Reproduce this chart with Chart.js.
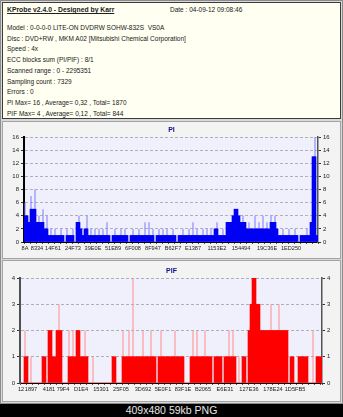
<!DOCTYPE html>
<html>
<head>
<meta charset="utf-8">
<script src="https://cdn.jsdelivr.net/npm/chart.js@4/dist/chart.umd.min.js"></script>
<style>
  html, body { margin: 0; padding: 0; }
  body { width: 343px; height: 417px; background: #d9d9d9; position: relative; overflow: hidden;
         font-family: "Liberation Sans", Arial, sans-serif; }
  #frame { position: absolute; left: 0; top: 0; width: 341px; height: 402px; border: 1px solid #8c8c8c; }
  #head { position: absolute; left: 2px; top: 2px; width: 337px; height: 115px; border: 1px solid #3c3c3c;
          background: #fffff2; color: #202020; font-size: 6.5px; }
  #head .ttl { position: absolute; left: 4px; top: 3px; font-weight: bold; text-decoration: underline; font-size: 6.8px; }
  #head .date { position: absolute; left: 167px; top: 3px; }
  #head .info { position: absolute; left: 4px; top: 20px; line-height: 10.7px; }
  .panel { position: absolute; left: 2px; width: 337px; border: 1px solid #a4a4a4; background: #f3f3f3; }
  #caption { position: absolute; left: 0; top: 404px; width: 343px; height: 13px; background: #000;
             color: #e6e6e6; font-size: 10.5px; line-height: 13px; text-align: center; }
</style>
</head>
<body>
<div id="frame"></div>
<div id="head">
  <div class="ttl">KProbe v2.4.0 - Designed by Karr</div>
  <div class="date">Date : 04-09-12 09:08:46</div>
  <div class="info">
    Model : 0-0-0-0 LITE-ON DVDRW SOHW-832S&nbsp; VS0A<br>
    Disc : DVD+RW , MKM A02 [Mitsubishi Chemical Corporation]<br>
    Speed : 4x<br>
    ECC blocks sum (PI/PIF) : 8/1<br>
    Scanned range : 0 - 2295351<br>
    Sampling count : 7329<br>
    Errors : 0<br>
    PI Max= 16 , Average= 0,32 , Total= 1870<br>
    PIF Max= 4 , Average= 0,12 , Total= 844
  </div>
</div>
<div class="panel" style="top:121px;height:136px;"><canvas id="piChart"></canvas></div>
<div class="panel" style="top:260px;height:140px;"><canvas id="pifChart"></canvas></div>
<div id="caption">409x480 59kb PNG</div>

<script>
// PI errors per sample (left to right across the disc)
const piValues = [
  6, 4, 3, 7, 5, 8, 3, 4, 3, 5,
  2, 4, 1, 2, 1, 2, 1, 1, 2, 1,
  0, 2, 1, 1, 2, 0, 3, 4, 2, 1,
  2, 4, 1, 2, 1, 2, 1, 2, 1, 2,
  1, 3, 1, 0, 1, 2, 1, 1, 2, 1,
  2, 1, 0, 1, 2, 1, 1, 2, 1, 1,
  3, 1, 3, 1, 2, 0, 1, 2, 1, 2,
  1, 2, 1, 1, 2, 1, 0, 1, 1, 2,
  1, 1, 2, 1, 3, 1, 2, 1, 1, 2,
  1, 2, 1, 2, 1, 2, 3, 1, 1, 2,
  1, 3, 3, 3, 4, 5, 5, 4, 3, 4,
  3, 2, 3, 2, 2, 4, 2, 3, 2, 4,
  2, 3, 2, 4, 3, 4, 2, 1, 1, 2,
  1, 1, 2, 1, 1, 2, 1, 0, 1, 1,
  1, 2, 1, 3, 13, 16, 1
];
const piTickLabels = ["8A", "8334", "14F61", "24F73", "39E0E", "51E89", "6F008", "8F947",
                      "B62F7", "E1387", "1153E2", "154494", "19C36E", "1ED250"];
const piTickAt = [0, 6, 14, 24, 34, 44, 54, 64, 74, 84, 96, 108, 121, 133];

// PIF errors per sample
const pifValues = [
  0, 0, 2, 1, 0, 1, 0, 0, 0, 0,
  0, 1, 1, 0, 2, 2, 1, 1, 2, 3,
  2, 0, 0, 0, 2, 1, 2, 1, 2, 2,
  1, 1, 2, 1, 0, 0, 1, 0, 0, 0,
  0, 0, 0, 0, 0, 0, 1, 1, 0, 0,
  0, 2, 1, 1, 2, 1, 4, 1, 1, 1,
  1, 2, 1, 1, 1, 2, 1, 1, 0, 1,
  2, 1, 1, 1, 1, 1, 1, 2, 1, 1,
  1, 1, 0, 0, 0, 1, 2, 1, 2, 1,
  1, 1, 2, 1, 1, 1, 0, 1, 1, 1,
  1, 0, 1, 1, 2, 1, 2, 1, 0, 1,
  0, 1, 1, 0, 2, 3, 4, 4, 3, 3,
  2, 2, 2, 2, 2, 3, 2, 2, 2, 3,
  2, 2, 2, 2, 0, 1, 1, 0, 0, 1,
  1, 1, 1, 1, 0, 0, 2, 0, 1, 1,
  1
];
const pifTickLabels = ["12", "1897", "4181", "79F4", "D1E4", "15301", "25F05", "3D692",
                       "5E0F1", "83F1E", "B2065", "E6E31", "127E36", "178E24", "1D5FB5"];
const pifTickAt = [0, 5, 14, 21, 30, 40, 50, 61, 71, 81, 91, 102, 114, 126, 137];

const FONT = "'Liberation Sans', Arial, sans-serif";

// light lavender behind the bars
const plotBg = {
  id: "plotBg",
  beforeDraw(chart) {
    const { ctx, chartArea: a } = chart;
    ctx.save();
    ctx.fillStyle = "#f0f0fd";
    ctx.fillRect(a.left, a.top, a.width, a.height);
    ctx.restore();
  }
};

function makeLabels(n, names, at) {
  const labels = new Array(n).fill("");
  names.forEach((t, k) => { labels[at[k]] = t; });
  return labels;
}

// the solid part of the bars: height shared with a neighbour
function denseLayer(vals) {
  return vals.map((v, i) => Math.min(v, Math.max(vals[i - 1] || 0, vals[i + 1] || 0)));
}

function drawProbe(id, o) {
  const tickFont = { size: 5.6, family: FONT };
  const yTicks = { stepSize: o.step, padding: 2, color: "#222", font: { size: 6, family: FONT } };
  return new Chart(document.getElementById(id), {
    type: "bar",
    data: {
      labels: makeLabels(o.values.length, o.tickNames, o.tickAt),
      datasets: [
        { data: denseLayer(o.values), backgroundColor: o.dark, grouped: false,
          barPercentage: 1, categoryPercentage: 1, borderWidth: 0 },
        // isolated peaks are only one pixel wide
        { data: o.values, backgroundColor: o.light, grouped: false,
          barPercentage: 0.5, categoryPercentage: 1, borderWidth: 0 }
      ]
    },
    options: {
      responsive: true,
      maintainAspectRatio: false,
      animation: false,
      layout: { padding: 0 },
      plugins: {
        legend: { display: false },
        tooltip: { enabled: false },
        title: { display: true, text: o.title, color: "#10108a",
                 font: { size: 7, weight: "bold", family: FONT },
                 padding: { top: o.titleTop, bottom: o.titleBottom } }
      },
      scales: {
        x: {
          offset: true,
          grid: { drawOnChartArea: false, tickLength: 2,
                  tickColor: c => (c.index % 3 ? "transparent" : "#555") },
          border: { color: "#000", width: 1 },
          ticks: { autoSkip: false, maxRotation: 0, minRotation: 0, padding: 1,
                   color: "#222", font: tickFont },
          afterFit: s => { s.height = o.xh; }
        },
        y: {
          min: 0, max: o.max,
          ticks: yTicks,
          grid: { color: "#b0b0bc", tickLength: 3, tickColor: "#333" },
          border: { color: o.leftAxis, width: o.leftWidth, dash: [3, 2] },
          afterFit: s => { s.width = o.lw; }
        },
        y2: {
          position: "right", min: 0, max: o.max,
          ticks: yTicks,
          grid: { drawOnChartArea: false, tickLength: 3, tickColor: "#333" },
          border: { color: "#555", width: 1.5 },
          afterFit: s => { s.width = o.rw; }
        }
      }
    },
    plugins: [plotBg]
  });
}

drawProbe("piChart", {
  title: "PI", values: piValues, tickNames: piTickLabels, tickAt: piTickAt,
  max: 16, step: 2, dark: "#0000f4", light: "#7a7aff",
  leftAxis: "#000", leftWidth: 2, lw: 21, rw: 22, xh: 16, titleTop: 4, titleBottom: 2.6
});

drawProbe("pifChart", {
  title: "PIF", values: pifValues, tickNames: pifTickLabels, tickAt: pifTickAt,
  max: 4, step: 1, dark: "#ff0000", light: "#ff8c8c",
  leftAxis: "#505050", leftWidth: 2, lw: 17, rw: 18, xh: 18, titleTop: 6, titleBottom: 2.6
});
</script>
</body>
</html>
